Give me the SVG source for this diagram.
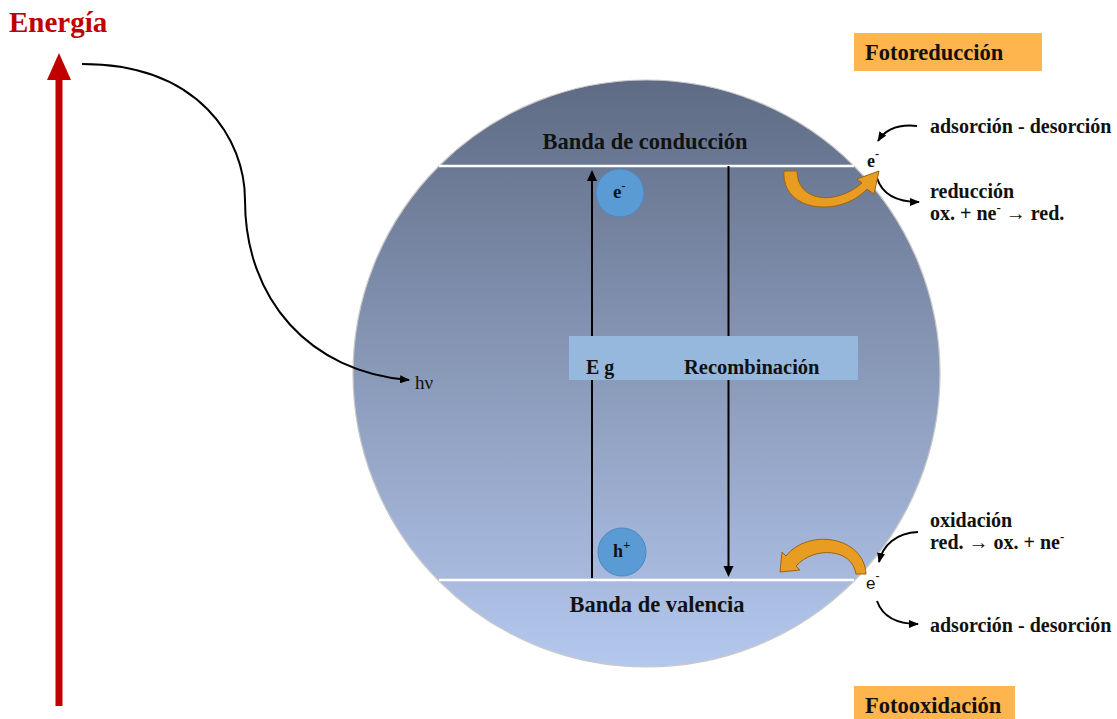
<svg xmlns="http://www.w3.org/2000/svg" width="1117" height="719" viewBox="0 0 1117 719">
<defs>
<linearGradient id="g" x1="0" y1="0" x2="0" y2="1">
<stop offset="0" stop-color="#5f6b84"/>
<stop offset="1" stop-color="#b4c8ee"/>
</linearGradient>
<marker id="ah" markerWidth="10" markerHeight="8" refX="9" refY="4" orient="auto" markerUnits="userSpaceOnUse">
<path d="M0,0 L10,4 L0,8 Z" fill="#000"/>
</marker>
<style>
.b{font-family:"Liberation Serif",serif;font-weight:bold;fill:#111;}
.n{font-family:"Liberation Serif",serif;fill:#111;}
.conn{fill:none;stroke:#000;stroke-width:2;marker-end:url(#ah);}
.band{stroke:#fff;stroke-width:2.5;}
.part{fill:#5b9bd5;stroke:#4f86bf;stroke-width:1;}
.orange{fill:#e89c22;stroke:#9a6414;stroke-width:1;}
.tag{fill:#ffb54d;}
</style>
</defs>
<rect width="1117" height="719" fill="#fff"/>

<g id="energia">
<text class="b" x="9" y="32" font-size="29" style="fill:#c00000">Energía</text>
<rect x="55.5" y="76" width="7" height="630" fill="#c00000"/>
<polygon points="59,53 71,80 47,80" fill="#c00000"/>
</g>

<g id="particula">
<circle cx="646.5" cy="373.5" r="293.5" fill="url(#g)" stroke="#c8c8c8" stroke-width="1.2"/>
<line class="band" x1="439" y1="166" x2="854" y2="166"/>
<line class="band" x1="439" y1="580" x2="854" y2="580"/>
<text class="b" x="645" y="149" font-size="22.5" text-anchor="middle">Banda de conducción</text>
<text class="b" x="657" y="612" font-size="22.5" text-anchor="middle">Banda de valencia</text>
</g>

<g id="gap">
<rect x="569" y="336" width="289" height="44" fill="#96b8dc"/>
<text class="b" x="586" y="374" font-size="20">E g</text>
<text class="b" x="684" y="374" font-size="20.5">Recombinación</text>
</g>

<g id="connectors">
<line x1="592" y1="578" x2="592" y2="380" stroke="#000" stroke-width="2"/>
<line x1="592" y1="336" x2="592" y2="180" stroke="#000" stroke-width="2"/>
<polygon points="592,170 587,181 597,181" fill="#000"/>
<line x1="728.5" y1="166" x2="728.5" y2="336" stroke="#000" stroke-width="2"/>
<line x1="728.5" y1="380" x2="728.5" y2="567" stroke="#000" stroke-width="2"/>
<polygon points="728.5,577 723.5,566 733.5,566" fill="#000"/>
<path class="conn" d="M82,64 C200,64 245,140 245,200 C245,300 310,372 409,380"/>
<path class="conn" d="M917,126 C898,124 885,130 878,141"/>
<path class="conn" d="M877,178 C882,194 895,202 919,202"/>
<path class="conn" d="M918,532 C896,533 883,545 879,562"/>
<path class="conn" d="M877,601 C882,615 895,624 918,624"/>
<path class="orange" d="M784,171 C781,212 840,218 867,189 L874,194 L879,171 L857,179 L862,183 C836,206 797,202 797,171 Z"/>
<path class="orange" d="M866,574 C864,536 808,528 786,556 L782,552 L780,572 L800,570 L796,566 C814,546 852,548 856,574 Z"/>
</g>

<g id="electron">
<circle class="part" cx="620" cy="193" r="24"/>
<text class="b" x="613" y="198" font-size="19">e<tspan font-size="12" dy="-8">-</tspan></text>
</g>
<g id="hueco">
<circle class="part" cx="622" cy="552" r="24"/>
<text class="b" x="613" y="557" font-size="18">h<tspan font-size="13" dy="-8">+</tspan></text>
</g>

<g id="hv">
<text class="n" x="415" y="389" font-size="19">hν</text>
</g>

<g id="fotoreduccion">
<rect class="tag" x="854" y="33" width="188" height="38"/>
<text class="b" x="865" y="60" font-size="22.5">Fotoreducción</text>
<text class="b" x="867" y="167" font-size="18">e<tspan font-size="12" dy="-9">-</tspan></text>
<text class="b" x="930" y="133" font-size="20">adsorción - desorción</text>
<text class="b" x="930" y="198" font-size="20">reducción</text>
<text class="b" x="930" y="220" font-size="20">ox. + ne<tspan font-size="13" dy="-8">-</tspan><tspan dy="8"> → red.</tspan></text>
</g>

<g id="fotooxidacion">
<rect class="tag" x="854" y="686" width="161" height="33"/>
<text class="b" x="865" y="713" font-size="22.5">Fotooxidación</text>
<text x="866" y="589" font-size="17" style="font-family:'Liberation Sans',sans-serif;fill:#111">e<tspan font-size="12" dy="-9">-</tspan></text>
<text class="b" x="930" y="527" font-size="20">oxidación</text>
<text class="b" x="930" y="549" font-size="20">red. → ox. + ne<tspan font-size="13" dy="-8">-</tspan></text>
<text class="b" x="930" y="632" font-size="20">adsorción - desorción</text>
</g>
</svg>
